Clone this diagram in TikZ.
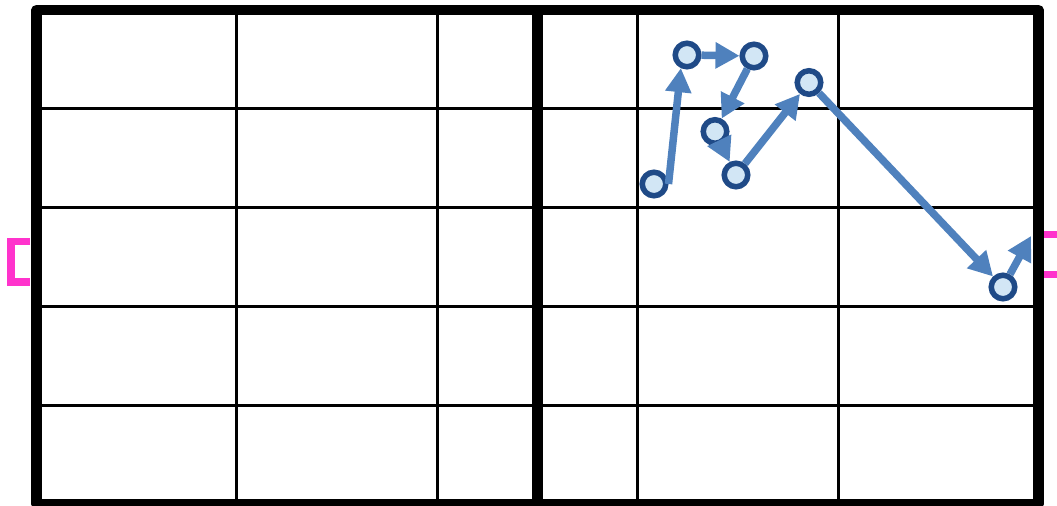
\documentclass[tikz,border=0pt]{standalone}
\usepackage{tikz}
\usetikzlibrary{arrows.meta}
\definecolor{pathBlue}{HTML}{4F81BD}
\definecolor{dotFill}{HTML}{D2E6F5}
\definecolor{dotEdge}{HTML}{1F4A87}
\definecolor{goalPink}{HTML}{FF33CC}

\begin{document}
\begin{tikzpicture}[x=0.01cm, y=-0.01cm,
    dot/.style={circle, draw=dotEdge, fill=dotFill, line width=0.055cm, minimum size=0.235cm, inner sep=0pt},
    move/.style={-{Triangle[length=0.24cm, width=0.25cm]}, line width=0.075cm, pathBlue}]
        \useasboundingbox (0,0) rectangle (1057,506);
        \clip (0,0) rectangle (1057,506);
        % field lines
        \foreach \x in {236.9,437.3,637.7,838.1}
          \draw[line width=0.03cm] (\x,10) -- (\x,504);
        \foreach \y in {108.8,207.6,306.4,405.2}
          \draw[line width=0.03cm] (36.5,\y) -- (1038.5,\y);
        \draw[line width=0.105cm] (537.5,10) -- (537.5,504);
        \draw[line width=0.105cm, line join=round] (36.5,10) rectangle (1038.5,504);
        % goals
        \draw[goalPink, line width=0.07cm] (30,241.5) -- (11,241.5) -- (11,282) -- (30,282);
        \draw[goalPink, line width=0.07cm] (1044,234.5) -- (1063,234.5) -- (1063,274.5) -- (1044,274.5);
        % path
        \node[dot] (s1) at (654,184) {};
        \node[dot] (s2) at (687,55) {};
        \node[dot] (s3) at (754,56) {};
        \node[dot] (s4) at (715,131.5) {};
        \node[dot] (s5) at (736,175) {};
        \node[dot] (s6) at (809,82.5) {};
        \node[dot] (s7) at (1003,287) {};
        \coordinate (shot) at (1031,236);
        \draw[move] (s1.east) -- (s2.245);
        \draw[move] (s2) -- (s3);
        \draw[move] (s3) -- (s4);
        \draw[move] (s4) -- (s5);
        \draw[move] (s5) -- (s6);
        \draw[move] (s6) -- (s7);
        \draw[move] (s7) -- (shot);
      \end{tikzpicture}
\end{document}
